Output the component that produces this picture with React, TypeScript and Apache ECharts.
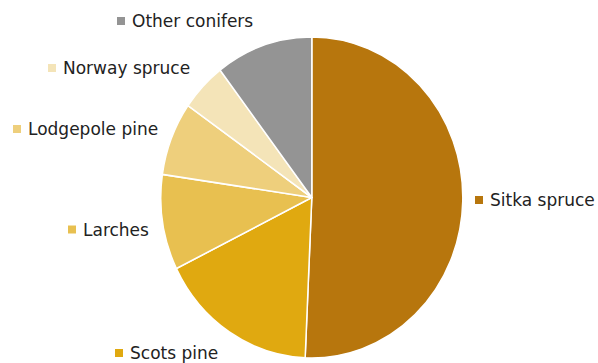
import React, { useEffect, useRef } from "react";
import * as echarts from "echarts";

const categories = ["Sitka spruce", "Scots pine", "Larches", "Lodgepole pine", "Norway spruce", "Other conifers"];
const shares = [50.7, 17.0, 9.6, 7.4, 4.9, 10.4];
const colors = ["#B7760D", "#E0A910", "#E8C050", "#EECF7C", "#F4E4B8", "#949494"];
// label anchor positions (marker left x, text middle y) in page pixels
const labelPos: [number, number][] = [
  [475, 200],
  [115, 353],
  [68, 229.5],
  [13, 129],
  [48, 68],
  [117, 21],
];

const K = 1.063; // vertical stretch of the reference pie
const W = 598;
const H = 363 / K;

export default function App() {
  const ref = useRef<HTMLDivElement>(null);
  useEffect(() => {
    document.body.style.margin = "0";
    const chart = echarts.init(ref.current!, null, { renderer: "svg" });
    const graphics = categories.map((name, i) => ({
      type: "group",
      x: labelPos[i][0],
      y: labelPos[i][1] / K,
      scaleY: 1 / K,
      children: [
        { type: "rect", shape: { x: 0, y: -4, width: 8, height: 8 }, style: { fill: colors[i] } },
        {
          type: "text",
          x: 15,
          y: 0,
          style: {
            text: name,
            fill: "#222",
            font: "17px 'DejaVu Sans'",
            textVerticalAlign: "middle",
            verticalAlign: "middle",
          },
        },
      ],
    }));
    chart.setOption({
      animation: false,
      backgroundColor: "#fff",
      graphic: graphics,
      series: [
        {
          type: "pie",
          center: [311.8, 197.5 / K],
          radius: 151,
          startAngle: 90,
          clockwise: true,
          label: { show: false },
          labelLine: { show: false },
          emphasis: { disabled: true },
          itemStyle: { borderColor: "#fff", borderWidth: 1.5 },
          data: categories.map((name, i) => ({ name, value: shares[i], itemStyle: { color: colors[i] } })),
        },
      ],
    });
    return () => chart.dispose();
  }, []);
  return (
    <div style={{ width: W, height: 363, overflow: "hidden", position: "relative" }}>
      <div
        ref={ref}
        style={{ width: W, height: H + 12, transform: `scaleY(${K})`, transformOrigin: "top left" }}
      />
    </div>
  );
}
